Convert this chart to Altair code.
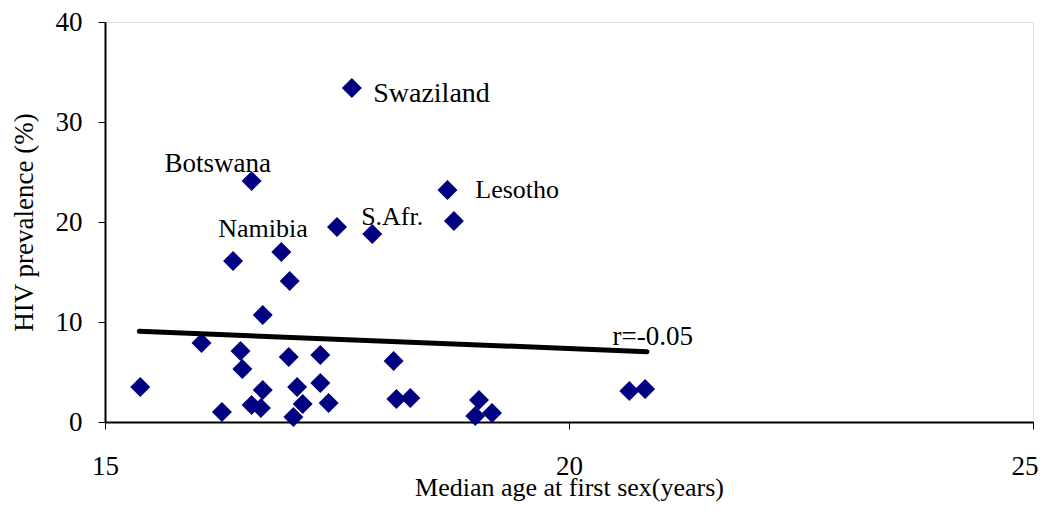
import altair as alt
import pandas as pd

# Median age at first sex (years) and HIV prevalence (%) per country
ages = [15.38, 16.04, 16.26, 16.38, 16.46, 16.48, 16.58, 16.58, 16.68, 16.70,
        16.70, 16.90, 16.98, 16.99, 17.03, 17.07, 17.13, 17.32, 17.32, 17.41,
        17.50, 17.66, 17.88, 18.11, 18.14, 18.29, 18.69, 18.76, 18.99, 19.03,
        19.17, 20.65, 20.82]
hiv = [3.5, 7.9, 1.0, 16.1, 7.1, 5.3, 1.7, 24.1, 1.4, 10.7,
       3.2, 17.0, 6.5, 14.1, 0.5, 3.5, 1.8, 6.7, 3.9, 1.9,
       19.5, 33.4, 18.8, 6.1, 2.3, 2.4, 23.2, 20.1, 0.6, 2.2,
       0.9, 3.1, 3.3]

label_names = ["Swaziland", "Botswana", "Lesotho", "Namibia", "S.Afr."]
label_x = [17.89, 15.64, 18.99, 16.22, 17.76]
label_y = [32.0, 25.0, 22.4, 18.5, 19.7]
label_size = [28, 27, 26, 26, 26]

trend_x = [15.37, 20.84]
trend_y = [9.07, 7.03]
r_label = ["r=-0.05"]
r_x = [20.47]
r_y = [7.7]

FONT = "Liberation Serif"

pts = pd.DataFrame({"age": ages, "hiv": hiv})
labs = pd.DataFrame({"name": label_names, "x": label_x, "y": label_y, "s": label_size})
trend = pd.DataFrame({"x": trend_x, "y": trend_y})
rdf = pd.DataFrame({"t": r_label, "x": r_x, "y": r_y})

xscale = alt.Scale(domain=[15, 25], nice=False, zero=False)
yscale = alt.Scale(domain=[0, 40], nice=False, zero=True)

xaxis = alt.Axis(values=[15, 20, 25], format="d", grid=False, tickSize=7, tickColor="black",
                 tickWidth=1, domainColor="black", domainWidth=2,
                 labelFont=FONT, labelFontSize=27, labelColor="black",
                 labelPadding=24, labelFlush=False,
                 labelAlign={"condition": {"test": "datum.value == 25", "value": "right"},
                             "value": "center"},
                 labelOffset={"condition": {"test": "datum.value == 25", "value": 5},
                              "value": 0},
                 title="Median age at first sex(years)", titleFont=FONT,
                 titleFontSize=26, titleFontWeight="normal", titleColor="black",
                 titleY=73, titleBaseline="alphabetic")
yaxis = alt.Axis(values=[0, 10, 20, 30, 40], format="d", grid=False, tickSize=7, tickColor="black",
                 tickWidth=1, domainColor="black", domainWidth=2,
                 labelFont=FONT, labelFontSize=27, labelColor="black",
                 labelPadding=16, labelFlush=False,
                 title="HIV prevalence (%)", titleFont=FONT, titleFontSize=27,
                 titleFontWeight="normal", titleColor="black",
                 titleAngle=270, titleBaseline="alphabetic", titleAlign="center",
                 titleX=-73, titleY=200)

points = alt.Chart(pts).mark_point(shape="diamond", filled=True, size=400,
                                   color="#000080", opacity=1).encode(
    x=alt.X("age:Q", scale=xscale, axis=xaxis),
    y=alt.Y("hiv:Q", scale=yscale, axis=yaxis),
)

line = alt.Chart(trend).mark_line(color="black", strokeWidth=5, strokeCap="round").encode(
    x=alt.X("x:Q", scale=xscale),
    y=alt.Y("y:Q", scale=yscale),
)

labels = alt.Chart(labs).mark_text(align="left", baseline="alphabetic", font=FONT,
                                   color="black").encode(
    x=alt.X("x:Q", scale=xscale),
    y=alt.Y("y:Q", scale=yscale),
    text="name:N",
    size=alt.Size("s:Q", scale=None, legend=None),
)

rtext = alt.Chart(rdf).mark_text(align="left", baseline="alphabetic", font=FONT,
                                 fontSize=27, color="black").encode(
    x=alt.X("x:Q", scale=xscale),
    y=alt.Y("y:Q", scale=yscale),
    text="t:N",
)

chart = alt.layer(points, line, labels, rtext).properties(
    width=928, height=400,
    autosize=alt.AutoSizeParams(type="none"),
    padding={"left": 97, "top": 14, "right": 5, "bottom": 81},
).configure_view(stroke="black", strokeWidth=2).configure(background="white")

chart.save("out.html", embed_options={"renderer": "svg", "actions": False})
